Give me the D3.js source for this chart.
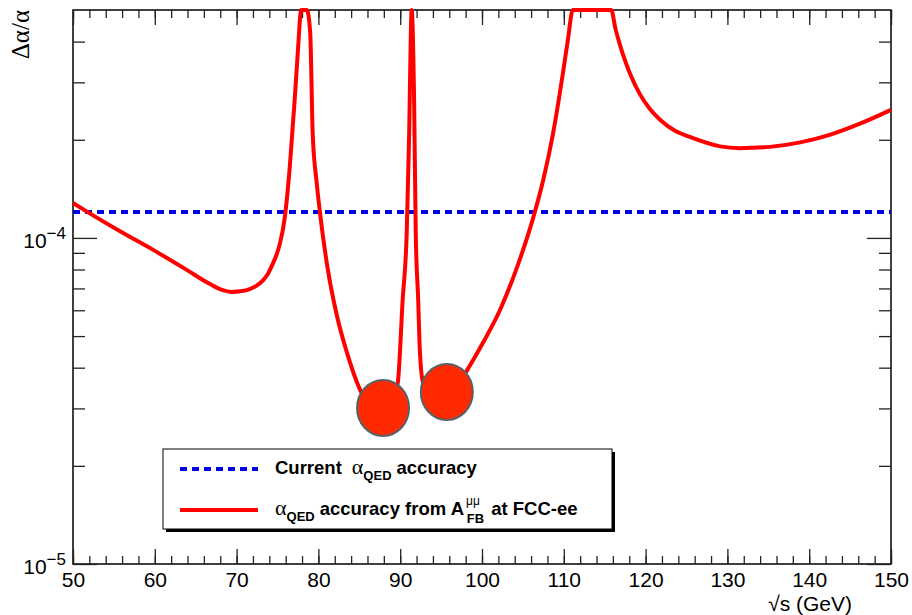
<!DOCTYPE html>
<html>
<head>
<meta charset="utf-8">
<title>alpha QED accuracy</title>
<script src="https://cdn.jsdelivr.net/npm/d3@7"></script>
<style>
  body { margin: 0; background: #fff; }
  text { font-family: "Liberation Sans", Arial, sans-serif; }
  .serif { font-family: "Liberation Serif", "Times New Roman", serif; }
</style>
</head>
<body>
<script>
// data
var sqrtS = [50.0, 51.8, 55.7, 59.8, 63.9, 66.7, 68.2, 69.4, 70.7, 71.6, 72.4, 73.2, 73.8, 74.4, 74.9, 75.3, 75.9,
  76.5, 77.1, 77.5, 77.9, 78.6, 79.0, 79.3, 79.8, 80.2, 81.1, 82.3, 83.5, 85.1, 86.9, 88.5, 89.7, 90.3, 90.8, 91.1,
  91.3, 91.4, 91.7, 91.9, 92.2, 92.4, 92.8, 94.3, 96.1, 98.2, 100.1, 102.2, 104.3, 106.2, 107.5, 108.7, 109.9, 110.5,
  111.1, 113.4, 115.8, 116.3, 116.9, 117.5, 118.1, 119.3, 120.5, 121.8, 123.6, 125.4, 129.1, 131.5, 135.2, 138.9,
  142.5, 146.2, 150.0]
var dAlpha = [1.28e-4, 1.20e-4, 1.05e-4, 9.19e-5, 7.98e-5, 7.23e-5, 6.93e-5, 6.83e-5, 6.87e-5, 6.97e-5, 7.13e-5,
  7.40e-5, 7.74e-5, 8.31e-5, 8.91e-5, 9.62e-5, 1.16e-4, 1.65e-4, 2.65e-4, 3.77e-4, 5.3e-4, 5.3e-4, 4.25e-4, 2.10e-4,
  1.47e-4, 1.19e-4, 8.15e-5, 5.72e-5, 4.44e-5, 3.42e-5, 2.97e-5, 2.93e-5, 3.59e-5, 6.45e-5, 1.04e-4, 2.10e-4, 4.25e-4,
  5.3e-4, 2.65e-4, 1.04e-4, 6.45e-5, 4.53e-5, 3.59e-5, 3.14e-5, 3.30e-5, 3.94e-5, 4.76e-5, 6.01e-5, 8.15e-5, 1.14e-4,
  1.51e-4, 2.10e-4, 3.21e-4, 4.05e-4, 5.2e-4, 6e-4, 5.2e-4, 4.40e-4, 3.88e-4, 3.49e-4, 3.19e-4, 2.76e-4, 2.49e-4,
  2.30e-4, 2.13e-4, 2.04e-4, 1.909e-4, 1.885e-4, 1.902e-4, 1.963e-4, 2.07e-4, 2.24e-4, 2.47e-4]
var currentAcc = 1.2e-4
var markX = [87.9, 95.7]
var markY = [3.01e-5, 3.37e-5]
var xMajor = [50, 60, 70, 80, 90, 100, 110, 120, 130, 140, 150]
var xMinor = d3.range(50, 151, 2)
var yMajor = [1e-5, 1e-4]
var yMinor = [2e-5, 3e-5, 4e-5, 5e-5, 6e-5, 7e-5, 8e-5, 9e-5, 2e-4, 3e-4, 4e-4]
var yExp = ["\u22125", "\u22124"]

var w = 912, h = 615
var mLeft = 73, mRight = 891, mTop = 10, mBottom = 564

var svg = d3.select("body").append("svg").attr("width", w).attr("height", h)

var x = d3.scaleLinear().domain([50, 150]).range([mLeft, mRight])
var y = d3.scaleLog().domain([1e-5, 5e-4]).range([mBottom, mTop]).clamp(true)

// frame
svg.append("rect")
  .attr("x", mLeft).attr("y", mTop)
  .attr("width", mRight - mLeft).attr("height", mBottom - mTop)
  .attr("fill", "none").attr("stroke", "#000").attr("stroke-width", 1.5)

function tickAxis(axis, tx, ty) {
  var g = svg.append("g").attr("transform", "translate(" + tx + "," + ty + ")").call(axis)
  g.select(".domain").remove()
  g.selectAll("line").attr("stroke", "#222").attr("stroke-width", 1.3)
  return g
}

// x ticks (bottom with labels, top without)
var xb = tickAxis(d3.axisBottom(x).tickValues(xMajor).tickSize(-15).tickPadding(8).tickFormat(d3.format("d")), 0, mBottom)
xb.selectAll("text").attr("font-size", 21).attr("fill", "#000")
tickAxis(d3.axisBottom(x).tickValues(xMinor).tickSize(-8).tickFormat(""), 0, mBottom)
tickAxis(d3.axisTop(x).tickValues(xMajor).tickSize(-15).tickFormat(""), 0, mTop)
tickAxis(d3.axisTop(x).tickValues(xMinor).tickSize(-8).tickFormat(""), 0, mTop)

// y ticks both sides
tickAxis(d3.axisLeft(y).tickValues(yMajor).tickSize(-24).tickFormat(""), mLeft, 0)
tickAxis(d3.axisLeft(y).tickValues(yMinor).tickSize(-12).tickFormat(""), mLeft, 0)
tickAxis(d3.axisRight(y).tickValues(yMajor).tickSize(-24).tickFormat(""), mRight, 0)
tickAxis(d3.axisRight(y).tickValues(yMinor).tickSize(-12).tickFormat(""), mRight, 0)

// y labels 10^-n
yMajor.forEach(function (v, i) {
  var t = svg.append("text").attr("x", 66).attr("y", y(v) + 10)
    .attr("text-anchor", "end").attr("font-size", 21)
  t.append("tspan").text("10")
  t.append("tspan").attr("dy", -9).attr("font-size", 17).text(yExp[i])
})

// axis titles
svg.append("text")
  .attr("class", "serif")
  .attr("transform", "translate(29,10) rotate(-90)")
  .attr("text-anchor", "end")
  .attr("font-size", 25)
  .text("\u0394\u03b1/\u03b1")

svg.append("text")
  .attr("x", 852).attr("y", 611)
  .attr("text-anchor", "end").attr("font-size", 21)
  .text("\u221as (GeV)")

// current accuracy
svg.append("line")
  .attr("x1", x(50)).attr("x2", x(150))
  .attr("y1", y(currentAcc)).attr("y2", y(currentAcc))
  .attr("stroke", "#0000e6").attr("stroke-width", 4)
  .attr("stroke-dasharray", "7,5")

// FCC-ee curve
var pts = sqrtS.map(function (d, i) { return [d, dAlpha[i]] })
var line = d3.line()
  .x(function (d) { return x(d[0]) })
  .y(function (d) { return y(d[1]) })
  .curve(d3.curveMonotoneX)

svg.append("path")
  .datum(pts)
  .attr("d", line)
  .attr("fill", "none")
  .attr("stroke", "#ff0000")
  .attr("stroke-width", 4)
  .attr("stroke-linejoin", "round")

// highlight markers
svg.selectAll(".mark")
  .data(markX)
  .enter()
  .append("ellipse")
  .attr("class", "mark")
  .attr("cx", function (d) { return x(d) })
  .attr("cy", function (d, i) { return y(markY[i]) })
  .attr("rx", 26).attr("ry", 28)
  .attr("fill", "#ff2a00")
  .attr("stroke", "#56616b").attr("stroke-width", 2)

// legend
var lg = svg.append("g")
lg.append("rect").attr("x", 166).attr("y", 452).attr("width", 449).attr("height", 80).attr("fill", "#000")
lg.append("rect").attr("x", 163).attr("y", 449).attr("width", 449).attr("height", 80)
  .attr("fill", "#fff").attr("stroke", "#000").attr("stroke-width", 1)

lg.append("line").attr("x1", 180).attr("x2", 258).attr("y1", 469).attr("y2", 469)
  .attr("stroke", "#0000e6").attr("stroke-width", 4).attr("stroke-dasharray", "7,5")
lg.append("line").attr("x1", 180).attr("x2", 258).attr("y1", 510).attr("y2", 510)
  .attr("stroke", "#ff0000").attr("stroke-width", 4)

var t1 = lg.append("text").attr("x", 275).attr("y", 474).attr("font-size", 18.5).attr("font-weight", "bold")
t1.append("tspan").text("Current")
t1.append("tspan").attr("class", "serif").attr("dx", 10).attr("font-weight", "normal").attr("font-size", 22).text("\u03b1")
t1.append("tspan").attr("dy", 6).attr("font-size", 13).text("QED")
t1.append("tspan").attr("dy", -6).attr("dx", 5).text("accuracy")

var t2 = lg.append("text").attr("x", 275).attr("y", 515).attr("font-size", 18.5).attr("font-weight", "bold")
t2.append("tspan").attr("class", "serif").attr("font-weight", "normal").attr("font-size", 22).text("\u03b1")
t2.append("tspan").attr("dy", 6).attr("font-size", 13).text("QED")
t2.append("tspan").attr("dy", -6).attr("dx", 5).text("accuracy from A")
t2.append("tspan").attr("dy", -10).attr("dx", 2).attr("font-size", 12).attr("font-weight", "normal").text("\u03bc\u03bc")
t2.append("tspan").attr("dy", 18).attr("dx", -13).attr("font-size", 13).text("FB")
t2.append("tspan").attr("dy", -8).attr("dx", 7).text("at FCC-ee")
</script>
</body>
</html>
